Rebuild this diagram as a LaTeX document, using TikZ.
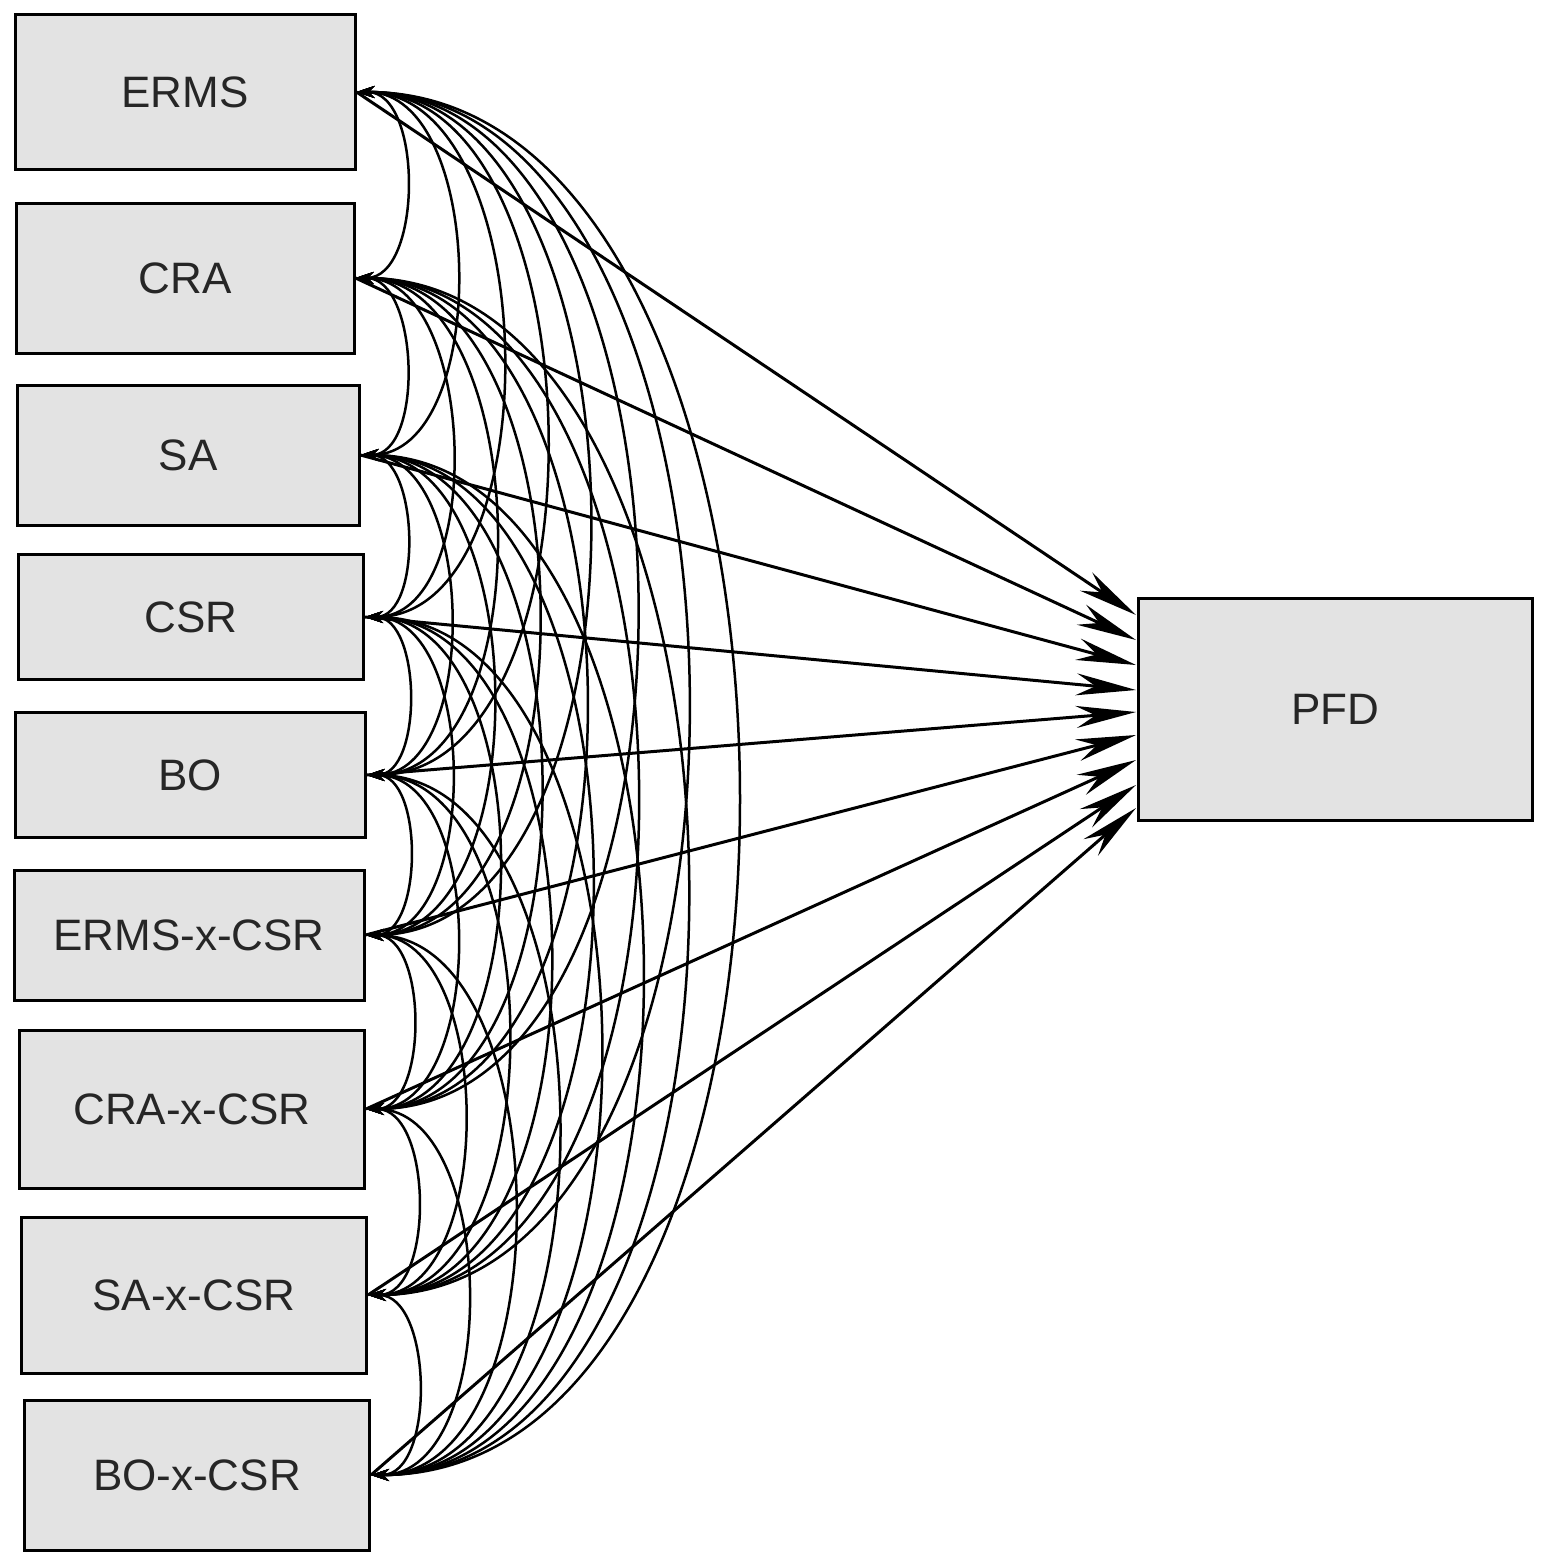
\documentclass[tikz,border=0pt]{standalone}
\usepackage{fontspec}
\setmainfont{Liberation Sans}
\usetikzlibrary{arrows.meta}
\begin{document}
\begin{tikzpicture}[x=1pt,y=-1pt,
  box/.style={draw=black,line width=3pt,fill=gray!22,inner sep=0pt,font=\fontsize{44}{48}\selectfont,text=black!85},
  cov/.style={<->,>={Stealth[length=18pt,width=12pt]},line width=2.5pt},
  path/.style={->,>={Stealth[length=60pt,width=22pt]},line width=3pt}]
\useasboundingbox (0,0) rectangle (1547,1566);
\node[box,minimum width=340pt,minimum height=155pt] (n1) at (185,92) {ERMS};
\node[box,minimum width=338pt,minimum height=150pt] (n2) at (185,278) {CRA};
\node[box,minimum width=342pt,minimum height=140pt] (n3) at (188,455) {SA};
\node[box,minimum width=345pt,minimum height=125pt] (n4) at (191,617) {CSR};
\node[box,minimum width=350pt,minimum height=125pt] (n5) at (190,775) {BO};
\node[box,minimum width=350pt,minimum height=130pt] (n6) at (189,935) {ERMS-x-CSR};
\node[box,minimum width=345pt,minimum height=158pt] (n7) at (192,1109) {CRA-x-CSR};
\node[box,minimum width=345pt,minimum height=156pt] (n8) at (194,1295) {SA-x-CSR};
\node[box,minimum width=345pt,minimum height=150pt] (n9) at (197,1475) {BO-x-CSR};
\node[box,minimum width=394pt,minimum height=222pt] (pfd) at (1335,709) {PFD};
\foreach \i/\t in {1/615,2/640,3/665,4/690,5/712,6/735,7/760,8/785,9/808}{
  \coordinate (e\i) at (1136,\t);
  \draw[path] (n\i.east) -- (e\i);
}
\def\ys{{0,92,278,455,617,775,935,1109,1295,1475}}
\foreach \i in {1,...,8}{
  \pgfmathtruncatemacro{\s}{\i+1}
  \foreach \j in {\s,...,9}{
    \pgfmathsetmacro{\k}{0.36*(\ys[\j]-\ys[\i])}
    \draw[cov] (n\i.east) .. controls +(\k,0) and +(\k,0) .. (n\j.east);
  }
}
\end{tikzpicture}
\end{document}
